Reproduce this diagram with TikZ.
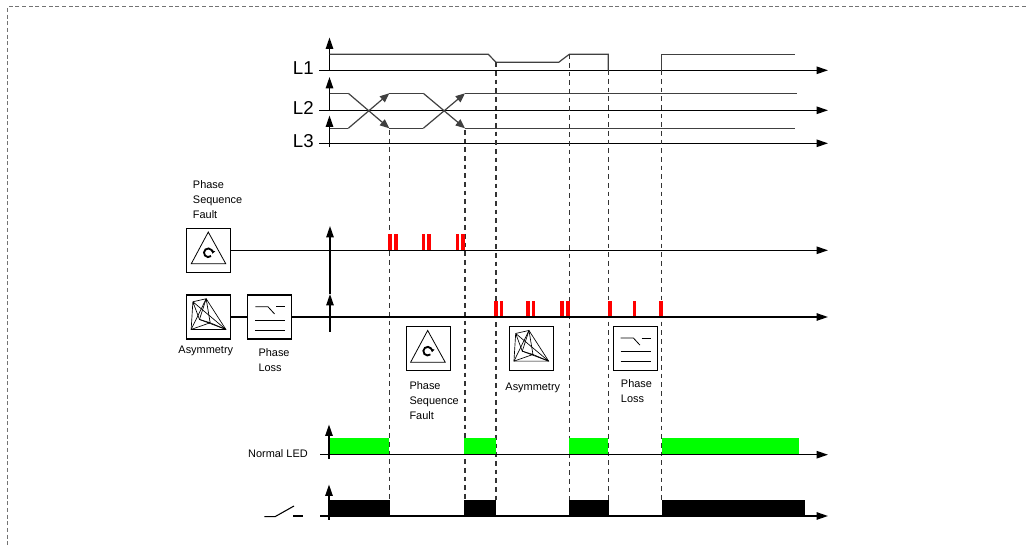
\documentclass[tikz,border=0pt]{standalone}
\usepackage{fontspec}
\setmainfont{Liberation Sans}
\usetikzlibrary{arrows.meta,calc}

\newcommand{\drawpsf}[1]{%
\begin{scope}[shift={(#1.north west)}]
\draw[line width=0.6pt] (22,4.3) -- (5,36) -- (39.5,36) -- cycle;
\draw[line width=1.4pt,-{Latex[length=2.4pt,width=3.4pt]}] (22,25) ++(50:4.3) arc[start angle=50,end angle=375,radius=4.3];
\end{scope}}
\newcommand{\drawasym}[1]{%
\begin{scope}[shift={(#1.north west)},line width=0.5pt]
\draw (20,4.3) -- (5,35) -- (39.7,35) -- cycle;
\draw (6.7,7.3) -- (5,35) (6.7,7.3) -- (39.7,35) (6.7,7.3) -- (13.3,25) -- (39.7,35);
\draw (20,4.3) -- (24,28.3) -- (39.7,35) (5,35) -- (24,28.3) (13.3,25) -- (24,28.3);
\draw (20,4.3) -- (13.3,25) (6.7,7.3) -- (20,4.3);
\end{scope}}
\newcommand{\drawloss}[1]{%
\begin{scope}[shift={(#1.north west)},line width=0.6pt]
\draw (8,12.3) -- (20.7,12.3) -- (27.3,19.5);
\draw (29,12.3) -- (38,12.3);
\draw (8,25.7) -- (38,25.7);
\draw (8,35.7) -- (38,35.7);
\end{scope}}

\begin{document}
\begin{tikzpicture}[x=0.75pt,y=-0.75pt,
  axis/.style={line width=1.1pt,-{Triangle[length=8.5pt,width=5.5pt]}},
  sig/.style={line width=0.9pt,black!75},
  sigarr/.style={sig,-{Triangle[length=7pt,width=5.8pt]}},
  guide/.style={black!80,line width=0.8pt,dash pattern=on 3.5pt off 3pt},
  pulse/.style={fill=red,draw=none},
  icon/.style={draw,line width=0.8pt,minimum width=33pt,minimum height=33pt,inner sep=0},
  lbl/.style={font=\fontsize{8.2}{11.25}\selectfont,inner sep=0,align=left},
  phase/.style={font=\fontsize{14}{16}\selectfont,inner sep=0}]
\useasboundingbox (0,0) rectangle (1026,548);
\draw[black!55,line width=0.8pt,dash pattern=on 3pt off 2pt] (1026,6.5) -- (7.5,6.5) -- (7.5,548);

\coordinate (tend) at (828,0);

\foreach \y/\t in {70.3/L1,110.3/L2,143.3/L3} {
  \node[phase,anchor=east] (\t) at (314,\y-2) {\t};
  \draw[axis] (319,\y) -- (tend |- 0,\y);
}
\draw[axis] (329.5,70.3) -- (329.5,37.5);
\draw[axis] (329.5,110.3) -- (329.5,77);
\draw[axis] (329.5,146.7) -- (329.5,115.5);

\draw[sig] (329.5,54.3) -- (488.3,54.3) -- (496,62.3) -- (558.7,62.3) -- (569.3,54.3) -- (608.3,54.3) -- (608.3,70.3);
\draw[sig] (661.7,70.3) -- (661.7,54.3) -- (795,54.3);

\draw[sig] (329.5,93.3) -- (348.3,93.3) (389.3,93.3) -- (423.3,93.3) (465,93.3) -- (796.7,93.3);
\draw[sig] (329.5,128.3) -- (348.3,128.3) (389.3,128.3) -- (423.3,128.3) (465,128.3) -- (795,128.3);
\foreach \a/\b in {348.3/389.3,423.3/465} {
  \draw[sigarr] (\a,93.3) -- (\b,128.3);
  \draw[sigarr] (\a,128.3) -- (\b,93.3);
}

\foreach \x/\t in {389.3/130,465/130,496/62.3,569.3/54.3,608.3/70.3,661.7/70.3}
  \draw[guide] (\x,\t) -- (\x,500);

\node[icon] (psfL) at (208.8,250.3) {};
\node[icon] (asymL) at (208.7,317) {};
\node[icon] (lossL) at (269.8,317) {};
\drawpsf{psfL}
\drawasym{asymL}
\drawloss{lossL}
\node[lbl,anchor=north west] (psfLtxt) at (192.7,180) {Phase\\Sequence\\Fault};
\node[lbl,anchor=north] (asymLtxt) at (205.8,346) {Asymmetry};
\node[lbl,anchor=north west] (lossLtxt) at (258.3,348.3) {Phase\\Loss};

\foreach \x in {388.3,394,421.7,427.3,455.7,461.3}
  \fill[pulse] (\x,234.3) rectangle ++(3.7,16);
\foreach \x in {494,499.7,526,531.7,560,566,608.3,632.7,659.3}
  \fill[pulse] (\x,301.3) rectangle ++(3.7,16);

\draw[axis] (psfL.east) -- (psfL.east -| tend);
\draw[line width=0.8pt] (asymL) -- (lossL);
\draw[axis] (lossL.east) -- (lossL.east -| tend);
\draw[axis] (330,332) -- (330,294);
\draw[axis] (330,294) -- (330,226);

\node[icon,fill=white] (psfM) at (428.2,348.7) {};
\node[icon,fill=white] (asymM) at (531.5,348.7) {};
\node[icon,fill=white] (lossM) at (635.2,348.2) {};
\drawpsf{psfM}
\drawasym{asymM}
\drawloss{lossM}
\node[lbl,anchor=north west] (psfMtxt) at (409.3,381) {Phase\\Sequence\\Fault};
\node[lbl,anchor=north] (asymMtxt) at (532.8,382.7) {Asymmetry};
\node[lbl,anchor=north west] (lossMtxt) at (620.7,379) {Phase\\Loss};

\foreach \a/\b in {330/389.3,464.3/495.7,569.3/608.3,661.7/798.7}
  \fill[green] (\a,438.3) rectangle (\b,454.7);
\node[lbl,anchor=east] (led) at (308,453.5) {Normal LED};
\draw[axis] (320,454.7) -- (tend |- 0,454.7);
\draw[axis] (329,459) -- (329,424.5);

\foreach \a/\b in {330/390.3,464.3/496.3,569.3/609,661.7/804.7}
  \fill[black] (\a,499.7) rectangle (\b,516);
\draw[line width=0.8pt] (264.3,516.7) -- (275,516.7) -- (294,506);
\draw[line width=0.8pt] (293.3,516) -- (302.7,516);
\draw[axis] (320,516) -- (tend |- 0,516);
\draw[axis] (329,520) -- (329,484.5);
\end{tikzpicture}
\end{document}
